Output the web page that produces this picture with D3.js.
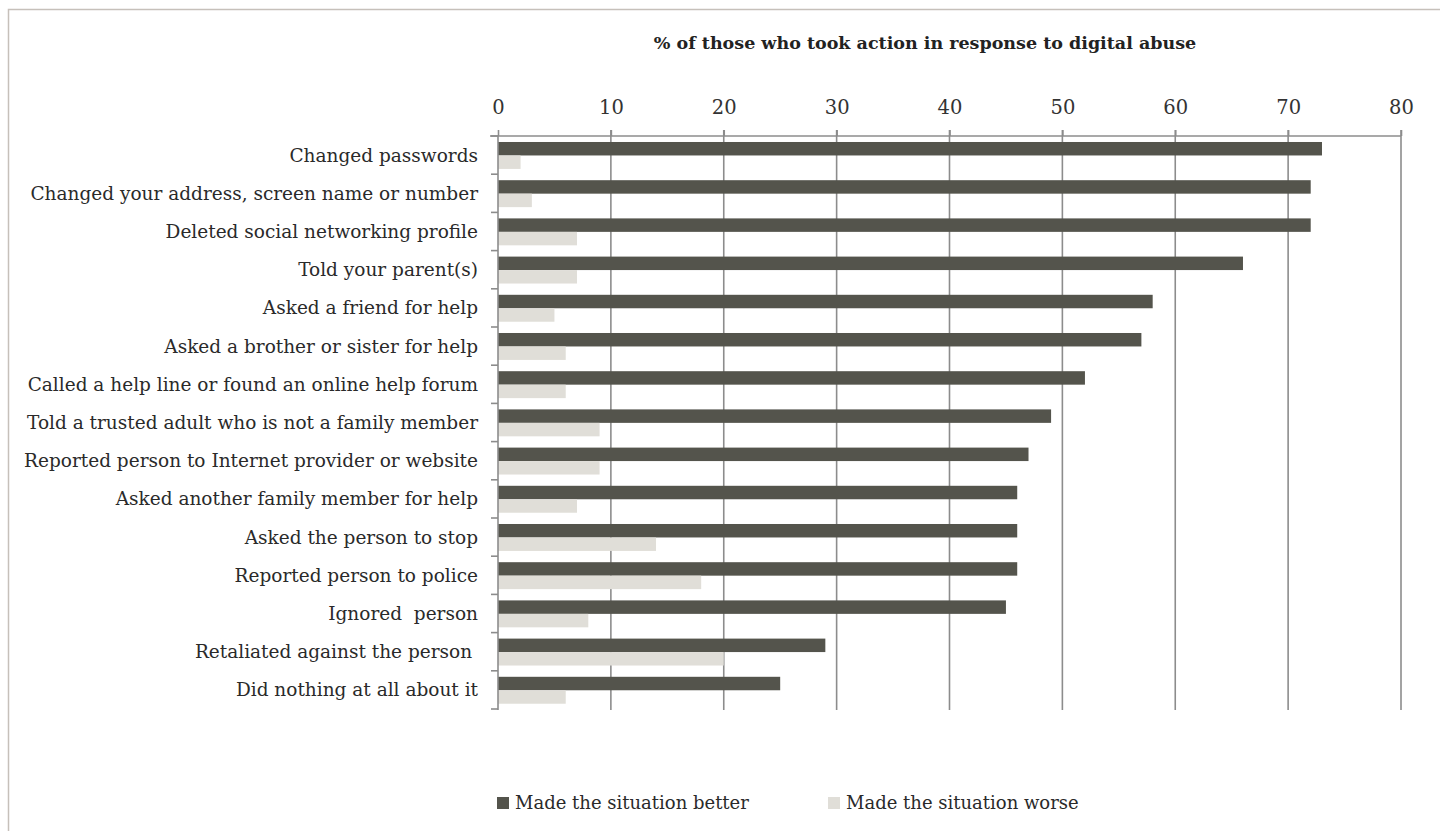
<!DOCTYPE html>
<html>
<head>
<meta charset="utf-8">
<script src="https://cdn.jsdelivr.net/npm/d3@7"></script>
<style>
html, body { margin: 0; padding: 0; background: #fff; }
svg { display: block; }
text { white-space: pre; }
</style>
</head>
<body>
<svg id="chart" width="1440" height="831"></svg>
<script>
const categories = [
  "Changed passwords",
  "Changed your address, screen name or number",
  "Deleted social networking profile",
  "Told your parent(s)",
  "Asked a friend for help",
  "Asked a brother or sister for help",
  "Called a help line or found an online help forum",
  "Told a trusted adult who is not a family member",
  "Reported person to Internet provider or website",
  "Asked another family member for help",
  "Asked the person to stop",
  "Reported person to police",
  "Ignored  person",
  "Retaliated against the person ",
  "Did nothing at all about it"
];
const better = [73, 72, 72, 66, 58, 57, 52, 49, 47, 46, 46, 46, 45, 29, 25];
const worse  = [2, 3, 7, 7, 5, 6, 6, 9, 9, 7, 14, 18, 8, 20, 6];
const seriesNames = ["Made the situation better", "Made the situation worse"];
const xTicks = [0, 10, 20, 30, 40, 50, 60, 70, 80];
const chartTitle = "% of those who took action in response to digital abuse";

const colors = ["#54544c", "#e0ded8"];
const fontLabel = "'DejaVu Serif', serif";

const svg = d3.select("#chart");

// frame
svg.append("path")
  .attr("d", "M8.5,831 L8.5,9.5 L1440,9.5")
  .attr("fill", "none").attr("stroke", "#c6c0ba").attr("stroke-width", 1.5);

const pLeft = 498, pRight = 1401, pTop = 136, pBottom = 709;
const x = d3.scaleLinear().domain([0, 80]).range([pLeft, pRight]);
const y = d3.scaleBand().domain(categories).range([pTop, pBottom]).padding(0);
const bw = y.bandwidth();
const sub = d3.scaleBand().domain([0, 1]).range([bw * 0.157, bw * 0.862]).padding(0);

// title
svg.append("text")
  .attr("x", 925).attr("y", 49)
  .attr("text-anchor", "middle")
  .attr("font-family", fontLabel).attr("font-size", 17.5).attr("font-weight", "bold")
  .attr("fill", "#222")
  .text(chartTitle);

// gridlines
svg.append("g").selectAll("line").data(xTicks.slice(1)).join("line")
  .attr("x1", d => x(d)).attr("x2", d => x(d))
  .attr("y1", pTop - 6).attr("y2", pBottom + 1)
  .attr("stroke", "#8c8c8c").attr("stroke-width", 1.6);

// top axis
const xAxis = svg.append("g").attr("transform", `translate(0,${pTop})`)
  .call(d3.axisTop(x).tickValues(xTicks).tickSize(6).tickPadding(16).tickSizeOuter(0));
xAxis.select(".domain").attr("stroke", "#8c8c8c").attr("stroke-width", 1.6)
  .attr("d", `M${pLeft - 8},0H${pRight}`);
xAxis.selectAll(".tick line").attr("stroke", "#8c8c8c").attr("stroke-width", 1.6);
xAxis.selectAll(".tick text").attr("font-family", fontLabel).attr("font-size", 19.5)
  .attr("font-weight", 300).attr("fill", "#333");

// bars
const rows = categories.map((c, i) => ({ c, vals: [better[i], worse[i]] }));
const g = svg.append("g");
const rowG = g.selectAll("g").data(rows).join("g")
  .attr("transform", d => `translate(0,${y(d.c)})`);
rowG.selectAll("rect").data(d => d.vals.map((v, k) => ({ v, k }))).join("rect")
  .attr("x", x(0)).attr("y", d => sub(d.k))
  .attr("width", d => x(d.v) - x(0)).attr("height", sub.bandwidth())
  .attr("fill", d => colors[d.k]);

// left axis
const yBounds = categories.map(c => y(c)).concat([pBottom]);
svg.append("line").attr("x1", pLeft).attr("x2", pLeft).attr("y1", pTop).attr("y2", pBottom + 1)
  .attr("stroke", "#8c8c8c").attr("stroke-width", 1.6);
svg.append("g").selectAll("line").data(yBounds).join("line")
  .attr("x1", pLeft - 7).attr("x2", pLeft).attr("y1", d => d).attr("y2", d => d)
  .attr("stroke", "#8c8c8c").attr("stroke-width", 1.6);
svg.append("g").selectAll("text").data(categories).join("text")
  .attr("x", pLeft - 20).attr("y", d => y(d) + bw / 2)
  .attr("dy", "0.35em").attr("text-anchor", "end")
  .attr("font-family", fontLabel).attr("font-size", 18.5).attr("font-weight", 300)
  .attr("fill", "#2a2a2a")
  .text(d => d);

// legend
const legendX = [497, 828];
const lg = svg.append("g").selectAll("g").data(seriesNames).join("g")
  .attr("transform", (d, i) => `translate(${legendX[i]},797)`);
lg.append("rect").attr("width", 12).attr("height", 12).attr("fill", (d, i) => colors[i]);
lg.append("text").attr("x", 18).attr("y", 6).attr("dy", "0.35em")
  .attr("font-family", fontLabel).attr("font-size", 18).attr("font-weight", 300)
  .attr("fill", "#2a2a2a").text(d => d);
</script>
</body>
</html>
